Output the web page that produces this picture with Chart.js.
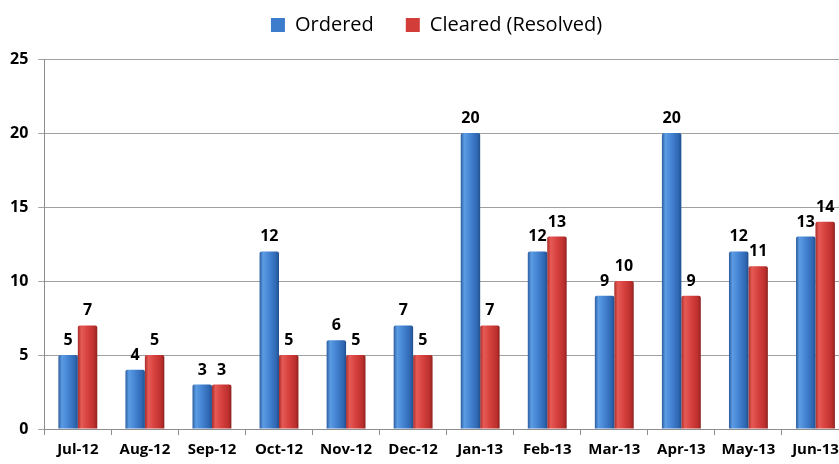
<!DOCTYPE html>
<html lang="en">
<head>
    <meta charset="UTF-8">
    <title>Ordered vs Cleared</title>
    <script src="https://cdn.jsdelivr.net/npm/chart.js"></script>
    <style>
        body {
            margin: 0;
            background: #ffffff;
            overflow: hidden;
        }
        .wrap {
            width: 839px;
            height: 464px;
            overflow: hidden;
        }
    </style>
</head>
<body>
    <div class="wrap">
        <canvas id="chart" width="850" height="464"></canvas>
    </div>

    <script>
        // Data
        const months = ['Jul-12', 'Aug-12', 'Sep-12', 'Oct-12', 'Nov-12', 'Dec-12',
                        'Jan-13', 'Feb-13', 'Mar-13', 'Apr-13', 'May-13', 'Jun-13'];
        const ordered = [5, 4, 3, 12, 6, 7, 20, 12, 9, 20, 12, 13];
        const cleared = [7, 5, 3, 5, 5, 5, 7, 13, 10, 9, 11, 14];
        const seriesNames = ['Ordered', 'Cleared (Resolved)'];

        const CAT_PCT = 0.58;

        const blueStops = [[0, '#2c5c9f'], [0.18, '#5b9ce3'], [0.5, '#4483d2'], [0.85, '#2f67b2'], [1, '#22508d']];
        const redStops = [[0, '#a82c2a'], [0.18, '#e65a55'], [0.5, '#d6413e'], [0.85, '#bb2f2d'], [1, '#8c2220']];
        const legendColors = ['#3d7ccc', '#d23c39'];

        // horizontal gradient across each bar, positioned from the x scale
        function barGradient(stops, solid, dsIndex) {
            return function(context) {
                const chart = context.chart;
                const xs = chart.scales && chart.scales.x;
                if (context.type !== 'data' || !xs || !xs.width) return solid;
                const catW = xs.width / months.length;
                const barW = catW * CAT_PCT / 2;
                const center = xs.getPixelForValue(context.dataIndex);
                const left = center - barW + dsIndex * barW;
                const g = chart.ctx.createLinearGradient(left, 0, left + barW, 0);
                stops.forEach(s => g.addColorStop(s[0], s[1]));
                return g;
            };
        }

        // value labels above bars
        const valueLabels = {
            id: 'valueLabels',
            afterDatasetsDraw(chart) {
                const ctx = chart.ctx;
                ctx.save();
                ctx.font = 'bold 16px "Open Sans"';
                ctx.fillStyle = '#000000';
                ctx.textAlign = 'center';
                ctx.textBaseline = 'alphabetic';
                chart.data.datasets.forEach((ds, i) => {
                    const meta = chart.getDatasetMeta(i);
                    meta.data.forEach((bar, j) => {
                        ctx.fillText(ds.data[j], bar.x, bar.y - 10);
                    });
                });
                ctx.restore();
            }
        };

        // extra room under the legend, and nudge it right a little
        const legendTweak = {
            id: 'legendTweak',
            beforeInit(chart) {
                const origFit = chart.legend.fit;
                chart.legend.fit = function() {
                    origFit.bind(chart.legend)();
                    this.height += 14;
                };
            },
            afterLayout(chart) {
                chart.legend.left += 12;
                chart.legend.right += 12;
            }
        };

        new Chart(document.getElementById('chart'), {
            type: 'bar',
            data: {
                labels: months,
                datasets: [
                    {
                        label: seriesNames[0],
                        data: ordered,
                        backgroundColor: barGradient(blueStops, legendColors[0], 0),
                        borderWidth: 0,
                        borderRadius: { topLeft: 2, topRight: 2 },
                        categoryPercentage: CAT_PCT,
                        barPercentage: 1
                    },
                    {
                        label: seriesNames[1],
                        data: cleared,
                        backgroundColor: barGradient(redStops, legendColors[1], 1),
                        borderWidth: 0,
                        borderRadius: { topLeft: 2, topRight: 2 },
                        categoryPercentage: CAT_PCT,
                        barPercentage: 1
                    }
                ]
            },
            options: {
                responsive: false,
                devicePixelRatio: 1,
                animation: false,
                layout: {
                    padding: { left: 0, right: 1, top: -17, bottom: -1 }
                },
                plugins: {
                    legend: {
                        position: 'top',
                        labels: {
                            boxWidth: 14,
                            boxHeight: 14,
                            padding: 32,
                            color: '#000000',
                            font: { family: '"Open Sans"', size: 20 },
                            generateLabels(chart) {
                                const items = Chart.defaults.plugins.legend.labels.generateLabels(chart);
                                items.forEach((it, i) => {
                                    it.fillStyle = legendColors[i];
                                    it.strokeStyle = legendColors[i];
                                    it.lineWidth = 0;
                                });
                                return items;
                            }
                        }
                    },
                    tooltip: { enabled: false }
                },
                scales: {
                    x: {
                        grid: {
                            drawOnChartArea: false,
                            tickLength: 6,
                            color: '#8c8c8c'
                        },
                        border: { color: '#8c8c8c' },
                        ticks: {
                            padding: 6,
                            color: '#000000',
                            font: { family: '"Open Sans"', size: 15, weight: 'bold' }
                        }
                    },
                    y: {
                        min: 0,
                        max: 25,
                        ticks: {
                            stepSize: 5,
                            padding: 10,
                            color: '#000000',
                            font: { family: '"Open Sans"', size: 16, weight: 'bold' }
                        },
                        grid: {
                            color: '#a0a0a0',
                            tickLength: 6
                        },
                        border: { color: '#8c8c8c' }
                    }
                }
            },
            plugins: [valueLabels, legendTweak]
        });
    </script>
</body>
</html>
